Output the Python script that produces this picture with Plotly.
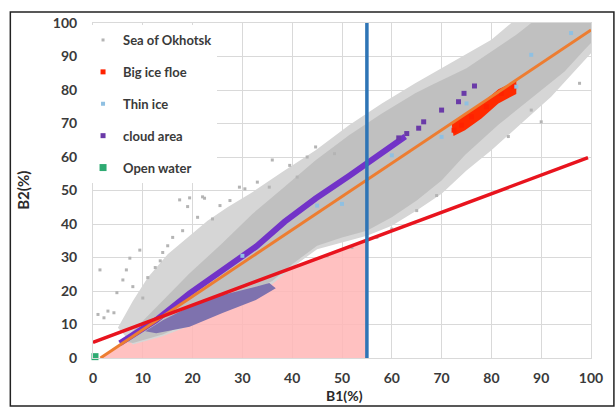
import numpy as np
import plotly.graph_objects as go

# ---------------- data ----------------
x_ticks = list(range(0, 101, 10))
y_ticks = list(range(0, 101, 10))

# reference lines
orange_x = [1.5, 100.0]
orange_y = [0.0, 97.9]
red_x = [0.0, 99.4]
red_y = [4.7, 59.8]
b1_threshold = 55.0
blue_y = [0.0, 100.0]

# Sea of Okhotsk: sparse outer envelope of the point cloud
sea_outer_upper_x = [5, 8, 11, 15, 19, 23, 27, 32, 38, 44.7, 51.4, 58, 64.7, 70, 75, 80, 84, 100]
sea_outer_upper_y = [9, 17, 24, 31, 36, 41, 45, 49.5, 55.5, 62, 69.5, 76, 82, 86.5, 90.5, 95, 100, 100]
sea_outer_lower_x = [100, 97, 92, 86, 80, 75, 70, 65, 60, 55, 50, 45, 40, 36, 32, 26, 20, 14, 8]
sea_outer_lower_y = [91, 86, 78, 70, 62, 56, 49, 44, 39.5, 36.5, 34.5, 32.5, 27, 22, 19, 14, 10, 6.5, 4]
# dense core of the cloud
sea_core_upper_x = [6, 10, 15.4, 19.4, 26, 32, 38, 44.7, 51.4, 58, 64.7, 68, 75, 81, 85, 88, 100]
sea_core_upper_y = [5, 11, 19.4, 25.3, 34.3, 43, 50.5, 59, 66.5, 73, 79, 81.5, 86.5, 92.5, 96.5, 100, 100]
sea_core_lower_x = [100, 98.7, 94.7, 88, 81.4, 74.7, 70, 65, 60, 55, 50, 45, 40, 36, 32, 26, 20, 14, 8]
sea_core_lower_y = [94, 92, 85.5, 77.5, 69.6, 60.6, 53, 47, 42, 38, 36, 33.5, 28, 23, 20, 15, 11, 7, 4.5]
# isolated points of the cloud
sea_pts_x = [1.4, 7.4, 6.7, 9.4, 6.0, 17.4, 19.4, 22.0, 19.0, 10.0, 8.0, 1.0, 3.0, 4.2, 2.2,
             36.0, 29.4, 44.7, 22.4, 35.4, 83.4, 97.7, 12.5, 14.0, 4.8, 16.0, 25.5, 30.5,
             47.0, 52.0, 57.0, 60.0, 90.0, 88.0, 69.0, 65.0, 41.0, 48.5,
             11.0, 13.5, 15.0, 18.0, 21.0, 24.0, 27.5, 33.0, 39.5, 43.0]
sea_pts_y = [26.3, 29.8, 26.3, 32.2, 23.3, 47.2, 47.8, 48.1, 45.2, 17.9, 21.3, 13.0, 14.0, 13.5, 12.0,
             59.1, 51.0, 63.0, 47.7, 51.0, 66.1, 82.0, 27.0, 31.5, 19.5, 36.0, 45.5, 50.5,
             30.5, 33.0, 36.0, 38.5, 70.5, 74.0, 48.5, 44.0, 54.0, 61.0,
             24.0, 29.0, 33.5, 38.0, 42.0, 41.5, 47.0, 52.5, 57.5, 60.0]

# Big ice floe
floe_upper_x = [72.0, 75.0, 78.0, 81.4, 85.0]
floe_upper_y = [70.0, 72.8, 76.0, 80.2, 82.8]
floe_lower_x = [85.0, 81.4, 78.0, 74.7, 72.4]
floe_lower_y = [78.8, 76.0, 71.5, 68.0, 66.3]
floe_pts_x = [72.5, 74.0, 76.0, 79.0, 82.0, 84.5]
floe_pts_y = [68.0, 69.5, 72.0, 75.0, 79.0, 81.0]

# Thin ice
thin_x = [30, 45, 60, 75, 88, 96, 50, 70, 85]
thin_y = [30.5, 45.5, 60.5, 76, 90.5, 97, 46, 66, 81]

# cloud area: dense upper streak, sparse tail, lower cluster
cloud_streak_x = [5.4, 12.7, 19.4, 26.1, 32.7, 38.5, 44.7, 51.4, 54.7, 58.1, 62.7]
cloud_streak_y = [4.4, 11.3, 19.3, 26.3, 33.2, 40.7, 47.6, 54.3, 57.6, 61.1, 66.1]
cloud_pts_x = [61.4, 63.0, 65.4, 66.4, 70.0, 73.4, 74.5, 76.6]
cloud_pts_y = [65.7, 67.0, 68.6, 70.5, 74.0, 76.5, 79.0, 81.2]
cloud_low_upper_x = [10.5, 14.0, 19.4, 26.0, 32.7, 35.4, 36.7]
cloud_low_upper_y = [8.0, 11.3, 15.3, 18.8, 21.3, 22.4, 20.8]
cloud_low_lower_x = [32.7, 26.0, 19.4, 12.7]
cloud_low_lower_y = [17.3, 13.4, 9.3, 7.4]

# Open water
open_x = [0.4]
open_y = [0.4]

# ---------------- derived geometry ----------------
def line_params(xs, ys):
    m = (ys[1] - ys[0]) / (xs[1] - xs[0])
    return m, ys[0] - m * xs[0]

mo, co = line_params(orange_x, orange_y)
mr, cr = line_params(red_x, red_y)
xi = (cr - co) / (mo - mr)
yi = mo * xi + co
pink_x = [orange_x[0], xi, b1_threshold, b1_threshold]
pink_y = [0.0, yi, mr * b1_threshold + cr, 0.0]

FONT = "Lato"
fig = go.Figure()

def poly(xs, ys, color):
    fig.add_trace(go.Scatter(x=xs, y=ys, mode="lines", fill="toself", fillcolor=color,
                             line=dict(width=0, color=color), showlegend=False,
                             hoverinfo="skip"))

poly(pink_x, pink_y, "rgba(255,182,182,0.85)")
poly(sea_outer_upper_x + sea_outer_lower_x, sea_outer_upper_y + sea_outer_lower_y, "#d6d6d6")
poly(sea_core_upper_x + sea_core_lower_x, sea_core_upper_y + sea_core_lower_y, "#c0c0c0")
poly(cloud_low_upper_x + cloud_low_lower_x, cloud_low_upper_y + cloud_low_lower_y, "#7e72ae")
poly(floe_upper_x + floe_lower_x, floe_upper_y + floe_lower_y, "#ff2a00")

fig.add_trace(go.Scatter(x=cloud_streak_x, y=cloud_streak_y, mode="lines",
                         line=dict(color="#7233c8", width=6), showlegend=False,
                         hoverinfo="skip"))

fig.add_trace(go.Scatter(x=sea_pts_x, y=sea_pts_y, mode="markers", name="Sea of Okhotsk",
                         legendgroup="a",
                         marker=dict(color="#b4b4b4", size=3, symbol="square")))
fig.add_trace(go.Scatter(x=floe_pts_x, y=floe_pts_y, mode="markers", name="Big ice floe",
                         legendgroup="b",
                         marker=dict(color="#ff2200", size=5, symbol="square")))
fig.add_trace(go.Scatter(x=thin_x, y=thin_y, mode="markers", name="Thin ice",
                         legendgroup="c",
                         marker=dict(color="#8fc0e2", size=4, symbol="square")))
fig.add_trace(go.Scatter(x=cloud_pts_x, y=cloud_pts_y, mode="markers", name="cloud area",
                         legendgroup="d",
                         marker=dict(color="#6a3aa8", size=5, symbol="square")))
fig.add_trace(go.Scatter(x=open_x, y=open_y, mode="markers", name="Open water",
                         legendgroup="e", cliponaxis=False,
                         marker=dict(color="#2eaa72", size=7, symbol="square")))

# lines on top
fig.add_trace(go.Scatter(x=orange_x, y=orange_y, mode="lines",
                         line=dict(color="#ed7d31", width=3), showlegend=False))
fig.add_trace(go.Scatter(x=red_x, y=red_y, mode="lines",
                         line=dict(color="#e8141e", width=3.5), showlegend=False))
fig.add_trace(go.Scatter(x=[b1_threshold, b1_threshold], y=blue_y, mode="lines",
                         line=dict(color="#2e75b6", width=3.5), showlegend=False))

axis_common = dict(range=[0, 100], showgrid=True, gridcolor="#d9d9d9", gridwidth=1,
                   zeroline=False, showline=True, linecolor="#d9d9d9", mirror=True,
                   ticks="",
                   tickfont=dict(family=FONT, size=14, color="#3a3a3a", weight="bold"))

fig.update_layout(
    width=615, height=407,
    margin=dict(l=93, r=22, t=23, b=49),
    paper_bgcolor="white", plot_bgcolor="white",
    xaxis=dict(tickvals=x_ticks, ticklabelstandoff=7, **axis_common),
    yaxis=dict(tickvals=y_ticks, ticklabelstandoff=12, **axis_common),
    showlegend=True,
    legend=dict(x=-0.02, y=0.994, xanchor="left", yanchor="top", bgcolor="white",
                tracegroupgap=12, itemsizing="trace",
                font=dict(family=FONT, size=13, color="#3a3a3a", weight="bold")),
    annotations=[
        dict(text="B1(%)", xref="paper", yref="paper", x=0.505, y=-0.113, showarrow=False,
             xanchor="center", yanchor="middle",
             font=dict(family=FONT, size=14, color="#2a2a2a", weight="bold")),
        dict(text="B2(%)", xref="paper", yref="paper", x=-0.142, y=0.5, showarrow=False,
             textangle=-90, xanchor="center", yanchor="middle",
             font=dict(family=FONT, size=15, color="#2a2a2a", weight="bold")),
    ],
    shapes=[dict(type="rect", xref="paper", yref="paper", x0=-0.166, x1=1.046,
                 y0=-0.1433, y1=1.0328, line=dict(color="#222222", width=1.5), layer="below")],
)

fig.write_html("out.html", config={"displayModeBar": False},
               post_script="document.body.style.margin='0';")
